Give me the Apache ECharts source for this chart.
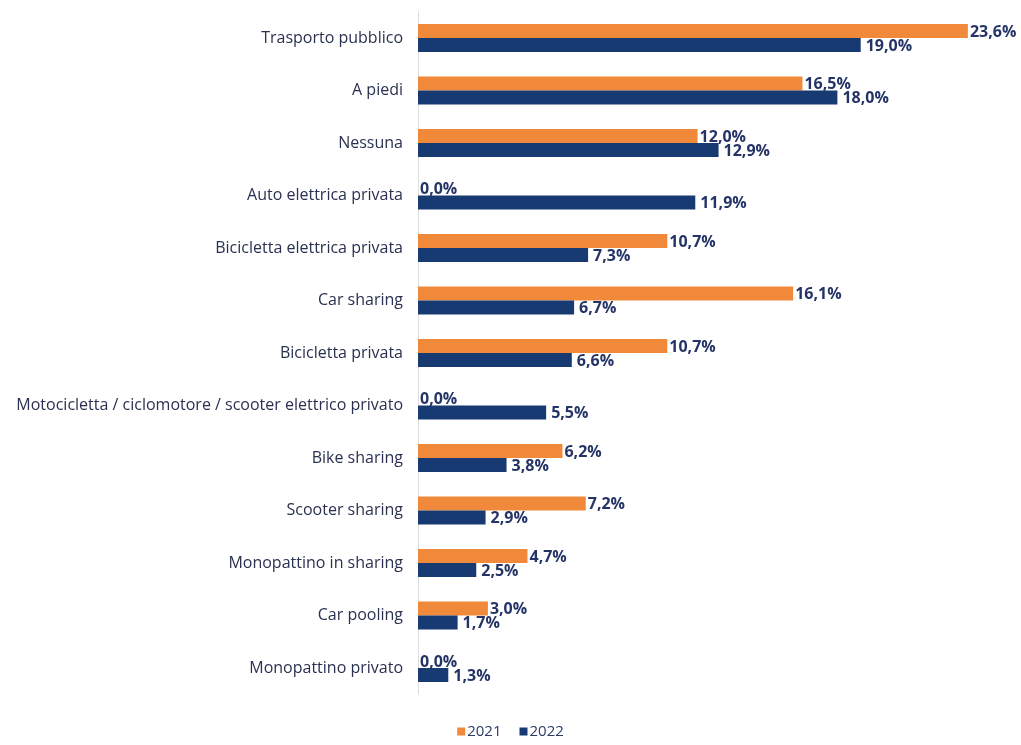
<!DOCTYPE html>
<html><head><meta charset="utf-8">
<script src="https://cdn.jsdelivr.net/npm/echarts@6/dist/echarts.min.js"></script>
<style>html,body{margin:0;padding:0;background:#fff}#c{width:1021px;height:745px}</style>
</head><body><div id="c"></div>
<script>
const categories = ["Trasporto pubblico","A piedi","Nessuna","Auto elettrica privata","Bicicletta elettrica privata","Car sharing","Bicicletta privata","Motocicletta / ciclomotore / scooter elettrico privato","Bike sharing","Scooter sharing","Monopattino in sharing","Car pooling","Monopattino privato"];
const values2021 = [23.6,16.5,12.0,0.0,10.7,16.1,10.7,0.0,6.2,7.2,4.7,3.0,0.0];
const values2022 = [19.0,18.0,12.9,11.9,7.3,6.7,6.6,5.5,3.8,2.9,2.5,1.7,1.3];
const seriesNames = ["2021","2022"];
const FONT = "'Open Sans', 'Noto Sans', sans-serif";
const fmt = p => p.value.toFixed(1).replace('.', ',') + '%';
const chart = echarts.init(document.getElementById('c'));
chart.setOption({
  animation:false,
  grid:{left:418,right:20.5,top:11.75,bottom:50.75,containLabel:false},
  legend:{bottom:1,left:'center',itemWidth:8,itemHeight:8,itemGap:18,icon:'rect',
    textStyle:{color:'#2b3a67',fontSize:15,fontFamily:FONT,padding:[0,0,0,-3]},data:seriesNames},
  xAxis:{type:'value',min:0,max:25,show:false},
  yAxis:{type:'category',data:categories,inverse:true,
    axisLine:{show:true,lineStyle:{color:'#dddddd'}},axisTick:{show:false},
    axisLabel:{color:'#2a3150',fontSize:16,fontFamily:FONT,margin:15}},
  series:[
    {name:seriesNames[0],type:'bar',data:values2021,barWidth:14,barGap:'0%',
     itemStyle:{color:'#f08a3a'},
     label:{show:true,position:'right',distance:2,offset:[0,1],formatter:fmt,color:'#253466',fontWeight:'bold',fontSize:16,fontFamily:FONT}},
    {name:seriesNames[1],type:'bar',data:values2022,barWidth:14,barGap:'0%',
     itemStyle:{color:'#173a73'},
     label:{show:true,position:'right',distance:5,offset:[0,1],formatter:fmt,color:'#253466',fontWeight:'bold',fontSize:16,fontFamily:FONT}}
  ]
});
</script></body></html>
